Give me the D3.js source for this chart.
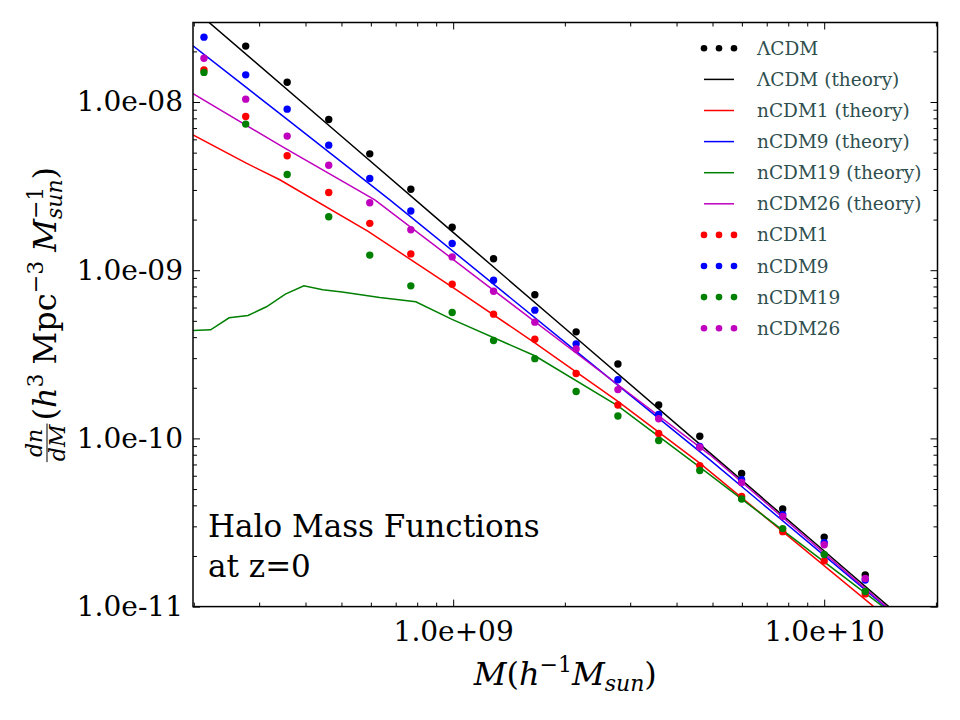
<!DOCTYPE html>
<html>
<head>
<meta charset="utf-8">
<script src="https://cdn.jsdelivr.net/npm/d3@7"></script>
<style>
  body { margin: 0; background: #fff; }
  svg { display: block; font-family: "DejaVu Serif", serif; }
</style>
</head>
<body>
<svg width="960" height="720"></svg>
<script>
// simulation mass bins (h^-1 Msun)
var massBins = [2.13e8, 2.76e8, 3.57e8, 4.62e8, 5.96e8, 7.69e8, 9.94e8, 1.285e9, 1.66e9,
  2.145e9, 2.78e9, 3.58e9, 4.62e9, 5.99e9, 7.73e9, 1.0e10, 1.29e10];

// measured dn/dM for each run
var lcdm = [3.5e-8, 2.15e-8, 1.31e-8, 7.87e-9, 4.92e-9, 3.03e-9, 1.80e-9, 1.17e-9, 7.14e-10,
  4.30e-10, 2.77e-10, 1.58e-10, 1.03e-10, 6.18e-11, 3.81e-11, 2.59e-11, 1.54e-11];
var ncdm1 = [1.55e-8, 8.20e-9, 4.79e-9, 2.90e-9, 1.90e-9, 1.25e-9, 8.26e-10, 5.48e-10, 3.89e-10,
  2.43e-10, 1.58e-10, 1.07e-10, 6.89e-11, 4.52e-11, 2.79e-11, 1.87e-11, 1.19e-11];
var ncdm9 = [2.43e-8, 1.45e-8, 9.07e-9, 5.54e-9, 3.51e-9, 2.25e-9, 1.44e-9, 8.71e-10, 5.79e-10,
  3.65e-10, 2.23e-10, 1.39e-10, 8.95e-11, 5.68e-11, 3.52e-11, 2.40e-11, 1.44e-11];
var ncdm19 = [1.50e-8, 7.39e-9, 3.71e-9, 2.08e-9, 1.23e-9, 8.07e-10, 5.60e-10, 3.82e-10, 2.98e-10,
  1.90e-10, 1.36e-10, 9.72e-11, 6.44e-11, 4.36e-11, 2.91e-11, 2.04e-11, 1.23e-11];
var ncdm26 = [1.82e-8, 1.04e-8, 6.27e-9, 4.21e-9, 2.52e-9, 1.74e-9, 1.20e-9, 7.49e-10, 4.91e-10,
  3.40e-10, 1.95e-10, 1.31e-10, 8.87e-11, 5.47e-11, 3.44e-11, 2.33e-11, 1.47e-11];

// theory curves (each on its own mass grid)
var lcdmTheoryMass = [1.99e8, 5e8, 1e9, 2e9, 5e9, 1e10, 2.02e10];
var lcdmTheory = [3.59e-8, 6.26e-9, 1.68e-9, 4.52e-10, 7.95e-11, 2.14e-11, 5.63e-12];
var ncdm1TheoryMass = [1.99e8, 2.77e8, 3.41e8, 5.90e8, 1.04e9, 1.66e9, 2.78e9, 4.62e9, 1.36e10, 2.02e10];
var ncdm1Theory = [6.38e-9, 4.33e-9, 3.45e-9, 1.70e-9, 7.44e-10, 3.70e-10, 1.66e-10, 7.13e-11, 1.0e-11, 4.88e-12];
var ncdm9TheoryMass = [1.99e8, 3.5e8, 6.75e8, 2.0e9, 4.92e9, 1.46e10, 2.02e10];
var ncdm9Theory = [2.16e-8, 8.15e-9, 2.62e-9, 3.74e-10, 7.46e-11, 1.0e-11, 5.5e-12];
var ncdm19TheoryMass = [1.99e8, 2.22e8, 2.49e8, 2.80e8, 3.14e8, 3.53e8, 3.96e8, 4.45e8, 5.02e8,
  6.34e8, 7.93e8, 9.90e8, 1.66e9, 2.78e9, 4.62e9, 1.44e10, 2.02e10];
var ncdm19Theory = [4.38e-10, 4.42e-10, 5.21e-10, 5.38e-10, 6.06e-10, 7.21e-10, 8.08e-10, 7.65e-10, 7.41e-10,
  6.88e-10, 6.49e-10, 5.12e-10, 3.10e-10, 1.56e-10, 6.75e-11, 1.0e-11, 5.64e-12];
var ncdm26TheoryMass = [1.99e8, 3.5e8, 6.15e8, 1.18e9, 2.5e9, 4.92e9, 1.47e10, 2.02e10];
var ncdm26Theory = [1.12e-8, 5.35e-9, 2.62e-9, 8.77e-10, 2.49e-10, 7.99e-11, 1.0e-11, 5.5e-12];

// axes
var xDomain = [1.99e8, 2.02e10];
var yDomain = [1e-11, 2.97e-8];
var xTickValues = [1e9, 1e10];
var xTickLabels = ["1.0e+09", "1.0e+10"];
var yTickValues = [1e-8, 1e-9, 1e-10, 1e-11];
var yTickLabels = ["1.0e-08", "1.0e-09", "1.0e-10", "1.0e-11"];

var svg = d3.select("svg"),
  margin = { top: 22.5, right: 22.5, bottom: 113.4, left: 193 },
  width = +svg.attr("width") - margin.left - margin.right,
  height = +svg.attr("height") - margin.top - margin.bottom,
  g = svg.append("g").attr("transform", "translate(" + margin.left + "," + margin.top + ")");

var x = d3.scaleLog().domain(xDomain).range([0, width]);
var y = d3.scaleLog().domain(yDomain).range([height, 0]);

function isDecade(v) {
  var l = Math.log10(v);
  return Math.abs(l - Math.round(l)) < 1e-6;
}
var xMinor = x.ticks().filter(function(d) { return !isDecade(d); });
var yMinor = y.ticks().filter(function(d) { return !isDecade(d); });

function styleAxis(sel) {
  sel.select(".domain").remove();
  sel.selectAll("line").attr("stroke", "#000").attr("stroke-width", 1);
  sel.attr("font-family", null).attr("font-size", 28);
  sel.selectAll("text").attr("fill", "#000");
}

// labelled axes, ticks pointing inward
g.append("g")
  .attr("transform", "translate(0," + height + ")")
  .call(d3.axisBottom(x).tickValues(xTickValues)
    .tickFormat(function(d) { return xTickLabels[xTickValues.indexOf(d)]; })
    .tickSize(-7).tickPadding(15))
  .call(styleAxis);
g.append("g")
  .call(d3.axisLeft(y).tickValues(yTickValues)
    .tickFormat(function(d) { return yTickLabels[yTickValues.indexOf(d)]; })
    .tickSize(-7).tickPadding(10))
  .call(styleAxis);
g.append("g").attr("transform", "translate(0," + height + ")")
  .call(d3.axisBottom(x).tickValues(xMinor).tickFormat("").tickSize(-4)).call(styleAxis);
g.append("g")
  .call(d3.axisLeft(y).tickValues(yMinor).tickFormat("").tickSize(-4)).call(styleAxis);
// top and right
g.append("g").call(d3.axisTop(x).tickValues(xTickValues).tickFormat("").tickSize(-7)).call(styleAxis);
g.append("g").call(d3.axisTop(x).tickValues(xMinor).tickFormat("").tickSize(-4)).call(styleAxis);
g.append("g").attr("transform", "translate(" + width + ",0)")
  .call(d3.axisRight(y).tickValues(yTickValues).tickFormat("").tickSize(-7)).call(styleAxis);
g.append("g").attr("transform", "translate(" + width + ",0)")
  .call(d3.axisRight(y).tickValues(yMinor).tickFormat("").tickSize(-4)).call(styleAxis);

// clip data to the plot area
svg.append("defs").append("clipPath").attr("id", "plotclip")
  .append("rect").attr("width", width).attr("height", height);
var plot = g.append("g").attr("clip-path", "url(#plotclip)");

var line = d3.line()
  .x(function(d) { return x(d[0]); })
  .y(function(d) { return y(d[1]); });

function drawDots(vals, color) {
  plot.append("g").selectAll("circle")
    .data(d3.zip(massBins, vals))
    .enter().append("circle")
    .attr("cx", function(d) { return x(d[0]); })
    .attr("cy", function(d) { return y(d[1]); })
    .attr("r", 3.7)
    .attr("fill", color);
}
function drawLine(mass, vals, color) {
  plot.append("path")
    .datum(d3.zip(mass, vals))
    .attr("d", line)
    .attr("fill", "none")
    .attr("stroke", color)
    .attr("stroke-width", 1.5);
}

drawDots(lcdm, "#000000");
drawLine(lcdmTheoryMass, lcdmTheory, "#000000");
drawLine(ncdm1TheoryMass, ncdm1Theory, "#ff0000");
drawLine(ncdm9TheoryMass, ncdm9Theory, "#0000ff");
drawLine(ncdm19TheoryMass, ncdm19Theory, "#008000");
drawLine(ncdm26TheoryMass, ncdm26Theory, "#bf00bf");
drawDots(ncdm1, "#ff0000");
drawDots(ncdm9, "#0000ff");
drawDots(ncdm19, "#008000");
drawDots(ncdm26, "#bf00bf");

// frame
g.append("rect").attr("width", width).attr("height", height)
  .attr("fill", "none").attr("stroke", "#000").attr("stroke-width", 1.5);

// legend
var legendLabels = ["\u039BCDM", "\u039BCDM (theory)", "nCDM1 (theory)", "nCDM9 (theory)", "nCDM19 (theory)",
  "nCDM26 (theory)", "nCDM1", "nCDM9", "nCDM19", "nCDM26"];
var legendColors = ["#000000", "#000000", "#ff0000", "#0000ff", "#008000", "#bf00bf",
  "#ff0000", "#0000ff", "#008000", "#bf00bf"];
var legendKinds = ["dots", "line", "line", "line", "line", "line", "dots", "dots", "dots", "dots"];

var legend = svg.append("g").attr("transform", "translate(704,48.3)");
legendLabels.forEach(function(lab, i) {
  var row = legend.append("g").attr("transform", "translate(0," + i * 31.1 + ")");
  if (legendKinds[i] == "dots") {
    [0, 15, 30].forEach(function(dx) {
      row.append("circle").attr("cx", dx).attr("cy", 0).attr("r", 3.3).attr("fill", legendColors[i]);
    });
  } else {
    row.append("line").attr("x1", 0).attr("x2", 30).attr("y1", 0).attr("y2", 0)
      .attr("stroke", legendColors[i]).attr("stroke-width", 1.5);
  }
  row.append("text").attr("x", 53).attr("y", 6.5)
    .attr("font-size", 18.5).attr("fill", "#2f4f4f").text(lab);
});

// annotation
svg.append("text").attr("x", 208).attr("y", 537).attr("font-size", 31).text("Halo Mass Functions");
svg.append("text").attr("x", 208).attr("y", 577).attr("font-size", 31).text("at z=0");

// math-like labels built from pieces
function mathPieces(parent, pieces, x0) {
  var cx = x0 || 0, lastStart = cx;
  pieces.forEach(function(p) {
    var start = p.stack ? lastStart : cx + (p.gap || 0);
    var t = parent.append("text")
      .attr("x", start).attr("y", p.dy || 0)
      .attr("font-size", p.size)
      .attr("font-style", p.italic ? "italic" : "normal")
      .text(p.t);
    var w = t.node().getComputedTextLength();
    if (p.stack) {
      cx = Math.max(cx, start + w);
    } else {
      lastStart = start;
      cx = start + w;
    }
  });
  return cx;
}

// x label
var xlab = svg.append("g");
var xw = mathPieces(xlab, [
  { t: "M", size: 32, italic: true },
  { t: "(", size: 32 },
  { t: "h", size: 32, italic: true },
  { t: "\u22121", size: 22, dy: -13 },
  { t: "M", size: 32, italic: true },
  { t: "sun", size: 22, italic: true, dy: 6 },
  { t: ")", size: 32 }
]);
xlab.attr("transform", "translate(" + (margin.left + width / 2 - xw / 2) + ",685)");

// y label (rotated)
var ylabOuter = svg.append("g")
  .attr("transform", "translate(56," + (margin.top + height / 2) + ") rotate(-90)");
var ylab = ylabOuter.append("g");
var num = ylab.append("text").attr("font-size", 22).attr("font-style", "italic")
  .attr("text-anchor", "middle").attr("y", -14).text("dn");
var den = ylab.append("text").attr("font-size", 22).attr("font-style", "italic")
  .attr("text-anchor", "middle").attr("y", 9).text("dM");
var fw = Math.max(num.node().getComputedTextLength(), den.node().getComputedTextLength()) + 2;
num.attr("x", fw / 2);
den.attr("x", fw / 2);
ylab.append("line").attr("x1", 0).attr("x2", fw).attr("y1", -9).attr("y2", -9)
  .attr("stroke", "#000").attr("stroke-width", 1);
var yw = mathPieces(ylab, [
  { t: "(", size: 32, gap: 3 },
  { t: "h", size: 32, italic: true },
  { t: "3", size: 22, dy: -13 },
  { t: "Mpc", size: 32, gap: 9 },
  { t: "\u22123", size: 22, dy: -13 },
  { t: "M", size: 32, italic: true, gap: 9 },
  { t: "sun", size: 22, italic: true, dy: 6 },
  { t: "\u22121", size: 22, dy: -13, stack: true },
  { t: ")", size: 32 }
], fw);
ylab.attr("transform", "translate(" + (-yw / 2) + ",0)");
</script>
</body>
</html>
